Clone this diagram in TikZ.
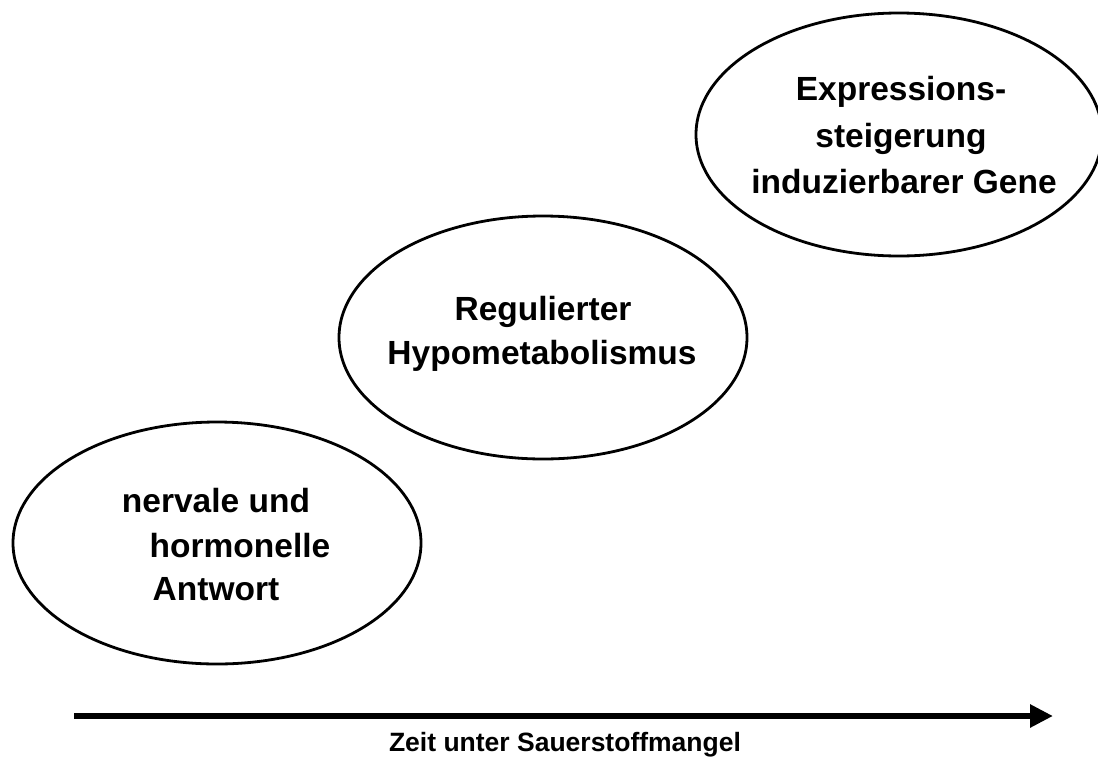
\documentclass[tikz,border=0pt]{standalone}
\usepackage{fontspec}
\setmainfont{Liberation Sans}
\usetikzlibrary{shapes.geometric,arrows.meta}
\tikzset{
  bubble/.style={draw=black, line width=2.8pt, ellipse, inner sep=0pt},
  lbl/.style={font=\fontsize{33.5}{40}\selectfont\bfseries, inner sep=0pt, anchor=base},
  axislbl/.style={font=\fontsize{26.5}{32}\selectfont\bfseries, inner sep=0pt, anchor=base},
  timearrow/.style={line width=6pt, -{Triangle[length=23pt,width=22pt]}}
}
\begin{document}
\begin{tikzpicture}[x=1pt,y=-1pt]
\useasboundingbox (0,0) rectangle (1098,758);
% ellipses
\node[bubble, minimum width=408pt, minimum height=242pt] (e1) at (217,543) {};
\node[bubble, minimum width=408pt, minimum height=243pt] (e2) at (543,337.5) {};
\node[bubble, minimum width=406pt, minimum height=243pt] (e3) at (899,134.5) {};
% texts of left ellipse
\node[lbl] (t1a) at (216,512) {nervale und};
\node[lbl] (t1b) at (240,557) {hormonelle};
\node[lbl] (t1c) at (216,600) {Antwort};
% texts of middle ellipse
\node[lbl] (t2a) at (543,320) {Regulierter};
\node[lbl] (t2b) at (542,364) {Hypometabolismus};
% texts of right ellipse
\node[lbl] (t3a) at (901,100) {Expressions-};
\node[lbl] (t3b) at (901,147) {steigerung};
\node[lbl] (t3c) at (904,193) {induzierbarer Gene};
% time axis
\coordinate (a0) at (74,716);
\coordinate (a1) at (1053,716);
\draw[timearrow] (a0) -- (a1);
\node[axislbl] (ax) at (565,751) {Zeit unter Sauerstoffmangel};
\end{tikzpicture}
\end{document}
